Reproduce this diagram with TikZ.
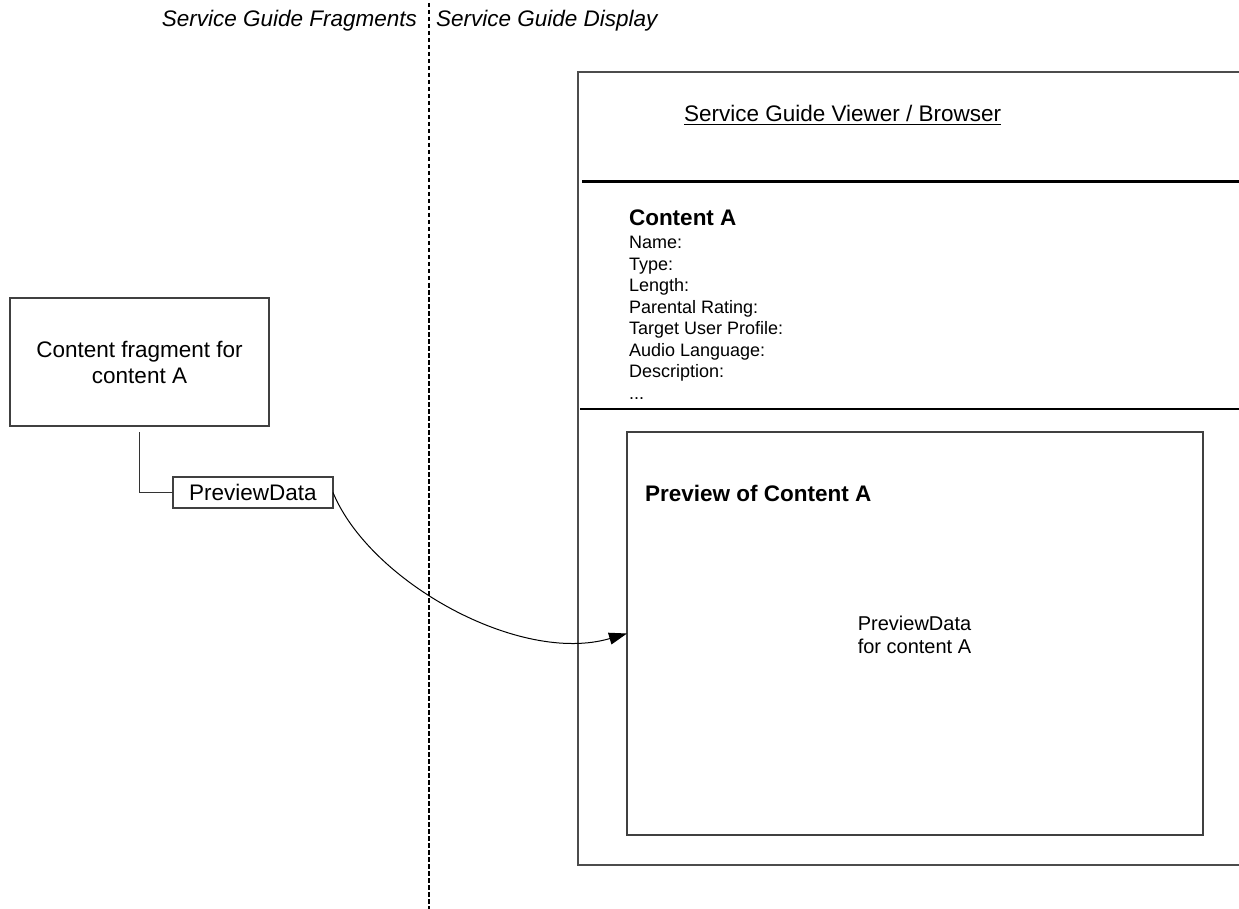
\documentclass[tikz,border=0pt]{standalone}
\usepackage{fontspec}
\setmainfont{Liberation Sans}
\usetikzlibrary{arrows.meta}
\newcommand\fbig{\fontsize{22.5}{26}\selectfont}
\newcommand\fsmall{\fontsize{18}{21.4}\selectfont}
\newcommand\fmid{\fontsize{20}{23}\selectfont}
\tikzset{
  txt/.style={inner sep=0pt, outer sep=0pt, font=\fbig},
  smalltxt/.style={inner sep=0pt, outer sep=0pt, font=\fsmall, anchor=base west},
  midtxt/.style={inner sep=0pt, outer sep=0pt, font=\fmid, anchor=base},
  boxnode/.style={draw=black!75, line width=1.4pt, inner sep=0pt, outer sep=0pt, align=center, font=\fbig},
  frameline/.style={draw=black!70, line width=1.5pt},
  divider/.style={draw=black, line width=1.4pt},
  thickdivider/.style={draw=black, line width=3pt},
  separator/.style={draw=black, line width=2.8pt, dash pattern=on 4.5pt off 2.5pt},
  connector/.style={draw=black!80, line width=1.2pt},
  flow/.style={draw=black, line width=1pt, -{Triangle[length=18pt,width=12pt]}}
}
\begin{document}
\begin{tikzpicture}[x=1pt,y=-1pt]
\useasboundingbox (0,0) rectangle (1239,909);
\fill[white] (0,0) rectangle (1239,909);

% separator
\coordinate (dtop) at (429,3);
\coordinate (dbot) at (429,909);
\draw[separator] (dtop) -- (dbot);

% titles
\node[txt, anchor=base east, font=\fbig\itshape] (tleft) at (417,27) {Service Guide Fragments};
\node[txt, anchor=base west, font=\fbig\itshape] (tright) at (436,27) {Service Guide Display};

% left side
\node[boxnode, minimum width=259pt, minimum height=128pt] (frag) at (139.5,362)
  {Content fragment for\\content A};
\node[boxnode, minimum width=160pt, minimum height=31pt] (pd) at (253,492.5) {PreviewData};
\draw[connector] ([yshift=-6pt]frag.south) |- (pd.west);

% viewer frame
\coordinate (ftr) at (1242,72);
\coordinate (ftl) at (578,72);
\coordinate (fbl) at (578,865);
\coordinate (fbr) at (1242,865);
\draw[frameline] (ftr) -- (ftl) -- (fbl) -- (fbr);

\coordinate (d1l) at (582,182);
\coordinate (d1r) at (1242,182);
\draw[thickdivider] (d1l) -- (d1r);
\coordinate (d2l) at (580,409);
\coordinate (d2r) at (1242,409);
\draw[divider] (d2l) -- (d2r);

\node[txt, anchor=base west] (viewer) at (684,122) {Service Guide Viewer / Browser};
\draw[line width=1.2pt] ([yshift=-2.5pt]viewer.base west) -- ([yshift=-2.5pt]viewer.base east);

\node[txt, anchor=base west, font=\fbig\bfseries] (ca) at (629,226) {Content A};
\foreach \t [count=\i from 0] in {Name:,Type:,Length:,Parental Rating:,Target User Profile:,Audio Language:,Description:}
  \node[smalltxt] (f\i) at (629,249+21.4*\i) {\t};
\node[smalltxt] (fdots) at (629,399) {...};

% preview box
\node[draw=black!75, line width=1.5pt, minimum width=576pt, minimum height=403pt, inner sep=0pt, outer sep=0pt] (pvbox) at (915,633.5) {};
\node[txt, anchor=base west, font=\fbig\bfseries] (pvtitle) at (645,501) {Preview of Content A};
\node[midtxt] (pv1) at (914.5,630) {PreviewData};
\node[midtxt] (pv2) at (914.5,653) {for content A};

% flow arrow
\draw[flow] (pd.east) .. controls (370,582) and (520,665) .. (pvbox.west);
\end{tikzpicture}
\end{document}
